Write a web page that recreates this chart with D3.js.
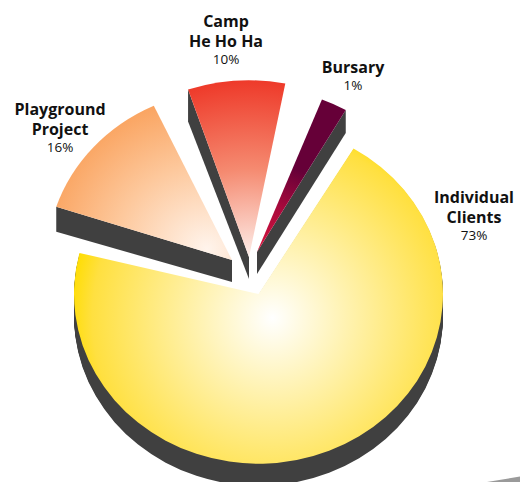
<!DOCTYPE html>
<html>
<head>
<meta charset="utf-8">
<script src="https://cdn.jsdelivr.net/npm/d3@7"></script>
<style>
  html, body { margin: 0; padding: 0; background: #fff; }
  svg { display: block; }
  text { font-family: "Open Sans", sans-serif; fill: #111; text-anchor: middle; }
  .name { font-size: 16px; font-weight: 700; }
  .pct { font-size: 13.5px; font-weight: 400; }
</style>
</head>
<body>
<div id="chart"></div>
<script>
const categories = ['Individual Clients', 'Playground Project', 'Camp He Ho Ha', 'Bursary'];
const percents = [73, 16, 10, 1];
// the drawn wedges are not true to the percentages in the source picture,
// so the sweeps are read off the picture (degrees, clockwise from 12 o'clock)
const sweepFrom = [31, 288.2, 341.5, 21.4];
const sweepTo = [284, 335, 370.9, 29.9];

const width = 520;
const height = 482;
const tilt = 0.92;

const layout = [
  { apex: [258.5, 294], r: 184.5, grad: 'gYellow' },
  { apex: [232, 260], r: 185, grad: 'gOrange', wallAngle: 0, rimDepth: 25 },
  { apex: [249, 257], r: 192, grad: 'gRed', wallAngle: 0, rimDepth: 32 },
  { apex: [257, 252], r: 178, grad: 'gPlum', wallAngle: 1, rimDepth: 23 }
];
const labelPos = [[474, 203], [60, 115], [226, 27], [353, 73]];
const lineBreaks = [['Individual', 'Clients'], ['Playground', 'Project'], ['Camp', 'He Ho Ha'], ['Bursary']];
const depth = 22;
const wallColor = '#404040';

const svg = d3.select('#chart').append('svg')
  .attr('width', width)
  .attr('height', height);

const defs = svg.append('defs');

function radial(id, cx, cy, r, stops) {
  const g = defs.append('radialGradient')
    .attr('id', id)
    .attr('gradientUnits', 'userSpaceOnUse')
    .attr('cx', cx).attr('cy', cy).attr('r', r);
  stops.forEach((s) => {
    g.append('stop').attr('offset', s[0]).attr('stop-color', s[1]);
  });
  return g;
}

// yellow glow is round on the page, so undo the tilt on it
radial('gYellow', 14, 24, 205, [[0, '#ffffff'], [0.88, '#ffe040'], [1, '#ffdd00']])
  .attr('gradientTransform', `scale(1,${1 / tilt})`);
radial('gOrange', -25, -12, 185, [[0, '#fff4ec'], [0.5, '#fdc89c'], [1, '#f99a50']]);
radial('gRed', 0, 0, 192, [[0, '#fdeeea'], [0.5, '#f58a70'], [1, '#ee3a2a']]);
radial('gPlum', 0, 0, 178, [[0, '#d8143c'], [0.3, '#a80a3c'], [0.55, '#660038'], [1, '#660038']]);

const angle = d3.scaleLinear().domain([0, 360]).range([0, 2 * Math.PI]);
const arc = d3.arc().innerRadius(0);

// background sliver at the bottom right corner of the source
svg.append('path')
  .attr('d', 'M487,482L520,476.5L520,482Z')
  .attr('fill', '#9a9a9a');

categories.forEach((name, i) => {
  const l = layout[i];
  const shape = arc({
    outerRadius: l.r,
    startAngle: angle(sweepFrom[i]),
    endAngle: angle(sweepTo[i])
  });

  if (l.wallAngle === undefined) {
    // round slice: rim wall is stacked copies of the shape
    d3.range(1, depth + 1).forEach((d) => {
      svg.append('path')
        .attr('d', shape)
        .attr('fill', wallColor)
        .attr('transform', `translate(${l.apex[0]},${l.apex[1] + d}) scale(1,${tilt})`);
    });
  } else {
    const a = angle(l.wallAngle === 0 ? sweepFrom[i] : sweepTo[i]);
    const rimX = l.apex[0] + l.r * Math.sin(a);
    const rimY = l.apex[1] - l.r * Math.cos(a) * tilt;
    const wall = d3.path();
    wall.moveTo(rimX, rimY);
    wall.lineTo(l.apex[0], l.apex[1]);
    wall.lineTo(l.apex[0], l.apex[1] + depth);
    wall.lineTo(rimX, rimY + l.rimDepth);
    wall.closePath();
    svg.append('path').attr('d', wall.toString()).attr('fill', wallColor);
  }

  svg.append('path')
    .attr('d', shape)
    .attr('fill', `url(#${l.grad})`)
    .attr('transform', `translate(${l.apex[0]},${l.apex[1]}) scale(1,${tilt})`);
});

categories.forEach((name, i) => {
  const [x, y] = labelPos[i];
  const lines = lineBreaks[i];
  lines.forEach((t, j) => {
    svg.append('text')
      .attr('class', 'name')
      .attr('x', x)
      .attr('y', y + j * 20)
      .text(t);
  });
  svg.append('text')
    .attr('class', 'pct')
    .attr('x', x)
    .attr('y', y + (lines.length - 1) * 20 + 17)
    .text(percents[i] + '%');
});
</script>
</body>
</html>
